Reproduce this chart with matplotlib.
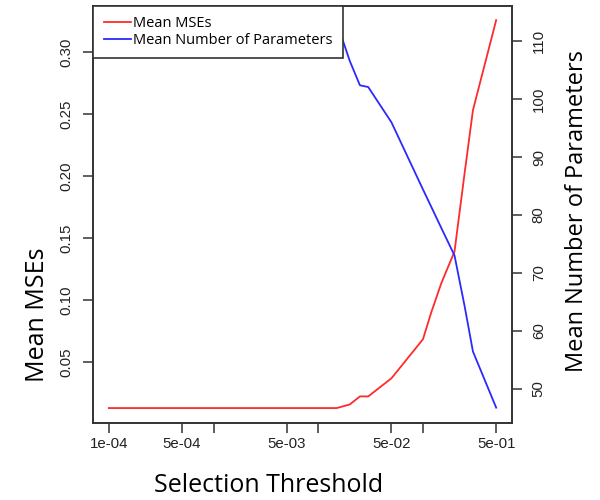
import matplotlib
matplotlib.use("Agg")
import matplotlib.pyplot as plt

# selection thresholds and the two series
threshold = [1e-4, 5e-4, 1e-3, 5e-3, 0.01, 0.015, 0.02, 0.025, 0.03, 0.05,
             0.1, 0.12, 0.15, 0.2, 0.25, 0.3, 0.5]
mean_mse = [0.0128, 0.0128, 0.0128, 0.0128, 0.0128, 0.0128, 0.0157, 0.0222,
            0.0222, 0.0368, 0.0683, 0.090, 0.1137, 0.139, 0.2025, 0.253, 0.3256]
mean_params = [113.3, 113.3, 113.3, 113.3, 113.3, 113.3, 106.6, 102.4,
               102.1, 96.0, 84.4, 81.4, 77.7, 73.0, 64.2, 56.4, 46.7]

xticks = [1e-4, 5e-4, 1e-3, 5e-3, 1e-2, 5e-2, 1e-1, 5e-1]
xticklabels = ['1e-04', '5e-04', '', '5e-03', '', '5e-02', '', '5e-01']
yticks_left = [0.05, 0.10, 0.15, 0.20, 0.25, 0.30]
yticks_right = [50, 60, 70, 80, 90, 100, 110]

axcol = '#333333'
tickfont = 'Liberation Sans'
labfont = 'Open Sans'

fig = plt.figure(figsize=(6, 5), dpi=100)
ax = fig.add_axes([0.1555, 0.1546, 0.6973, 0.8334])
ax2 = ax.twinx()

l1, = ax.plot(threshold, mean_mse, color='#ff2a2a', lw=1.3, label='Mean MSEs')
l2, = ax2.plot(threshold, mean_params, color='#2a2aff', lw=1.3,
               label='Mean Number of Parameters')

ax.set_xscale('log')
ax.set_xlim(10 ** -4.148, 10 ** -0.153)
ax.set_ylim(0.001, 0.337)
ax2.set_ylim(44.1, 116.1)

ax.set_xticks(xticks)
ax.set_xticklabels(xticklabels)
ax.minorticks_off()
ax.set_yticks(yticks_left)
ax.set_yticklabels(['%.2f' % v for v in yticks_left], rotation=90, va='center')
ax2.set_yticks(yticks_right)
ax2.set_yticklabels([str(v) for v in yticks_right], rotation=90, va='center')

for a in (ax, ax2):
    for s in a.spines.values():
        s.set_color(axcol)
        s.set_linewidth(1.2)
    a.tick_params(length=7.5, width=1.1, color=axcol, labelcolor='#222222',
                  labelsize=10.8, pad=7)
    for t in a.get_xticklabels() + a.get_yticklabels():
        t.set_family(tickfont)
ax.tick_params(axis='x', pad=3)

# axis titles (placed like the original, not centred on the axes)
fig.text(0.063, 0.37, 'Mean MSEs', rotation=90, ha='center', va='center',
         fontsize=18, family=labfont)
fig.text(0.962, 0.577, 'Mean Number of Parameters', rotation=90, ha='center',
         va='center', fontsize=17, family=labfont)
fig.text(0.447, 0.028, 'Selection Threshold', ha='center', va='center',
         fontsize=18, family=labfont)

leg = ax2.legend(handles=[l1, l2], loc='upper left', bbox_to_anchor=(0, 1),
                 borderaxespad=0, fancybox=False, framealpha=1,
                 edgecolor=axcol, prop={'family': labfont, 'size': 10.5},
                 handlelength=1.9, handletextpad=0.15, borderpad=0.7,
                 labelspacing=0.12)
leg.get_frame().set_linewidth(1.2)

fig.savefig('out.png', dpi=100)
